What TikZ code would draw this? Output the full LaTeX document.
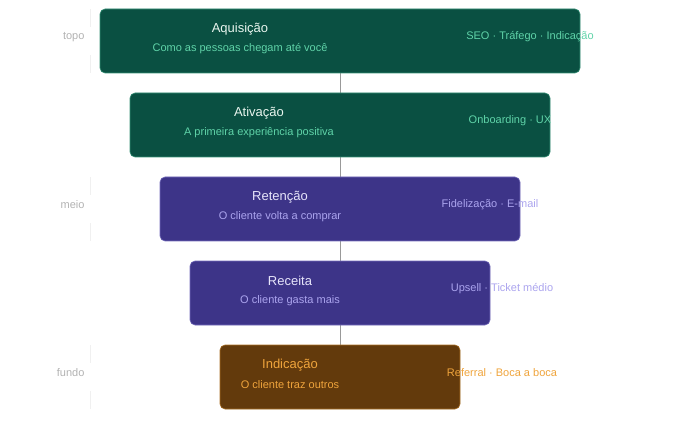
\documentclass[tikz,border=0pt]{standalone}
\usepackage{fontspec}
\setmainfont{Liberation Sans}
\begin{document}
\begin{tikzpicture}[x=1pt,y=-1pt,
 box/.style={draw=#1!70!white,line width=0.6pt,rounded corners=5pt,inner sep=0pt},
 ttl/.style={font=\fontsize{13}{15}\selectfont},
 sub/.style={font=\fontsize{11}{13}\selectfont},
 side/.style={font=\fontsize{11}{13}\selectfont,text=gray!55},
 lvl/.style={font=\fontsize{11}{13}\selectfont,text=black!30}]
\definecolor{gr}{HTML}{0A5042}
\definecolor{pu}{HTML}{3D3488}
\definecolor{br}{HTML}{633A0C}
\definecolor{grt}{HTML}{E8F5EE}\definecolor{grs}{HTML}{5FD3A8}
\definecolor{put}{HTML}{E6E4FA}\definecolor{pus}{HTML}{ABA4EE}
\definecolor{brt}{HTML}{F8D8A8}\definecolor{brs}{HTML}{EFA43C}
\useasboundingbox (0,0) rectangle (680,422);
\draw[gray!80,line width=0.8pt] (340,41) coordinate(t) -- (340,377) coordinate(b);
\foreach \y/\t in {9/topo,177/meio,345/fundo}{
 \draw[black!6] (90,\y) -- (90,\y+18) (90,\y+46) -- (90,\y+64);
 \node[lvl,anchor=east] at (88,\y+28) {\t};}
\def\bx#1#2#3#4#5#6#7#8#9{%
 \fill[#5,rounded corners=5pt] (#1,#2) rectangle (#3,#2+64);
 \draw[#4,rounded corners=5pt,line width=0.6pt] (#1,#2) rectangle (#3,#2+64);
}
\foreach \n/\l/\r/\y/\c/\lc/\tc/\sc/\cx in {
 a/100/580/9/gr/grs/grt/grs/240,
 b/130/550/93/gr/grs/grt/grs/259,
 c/160/520/177/pu/pus/put/pus/280,
 d/190/490/261/pu/pus/put/pus/290,
 e/220/460/345/br/brs/brt/brs/290}{
 \node[fill=\c,draw=\lc!50!\c,line width=0.6pt,rounded corners=5pt,minimum width=\r pt-\l pt,minimum height=64pt,inner sep=0pt] (\n) at ({(\l+\r)/2},\y+32) {};
 \node[text=\tc!85!white] (\n t) at (\cx,\y+20) [ttl]{};
}
\node[ttl,text=grt] at (240,29) {Aquisição};
\node[sub,text=grs] at (240,49) {Como as pessoas chegam até você};
\node[sub,text=grs] at (530,37) {SEO · Tráfego · Indicação};
\node[ttl,text=grt] at (259,113) {Ativação};
\node[sub,text=grs] at (259,133) {A primeira experiência positiva};
\node[sub,text=grs] at (510,121) {Onboarding · UX};
\node[ttl,text=put] at (280,197) {Retenção};
\node[sub,text=pus] at (280,217) {O cliente volta a comprar};
\node[sub,text=pus] at (490,205) {Fidelização · E-mail};
\node[ttl,text=put] at (290,281) {Receita};
\node[sub,text=pus] at (290,301) {O cliente gasta mais};
\node[sub,text=pus] at (502,289) {Upsell · Ticket médio};
\node[ttl,text=brs] at (290,365) {Indicação};
\node[sub,text=brs] at (290,385) {O cliente traz outros};
\node[sub,text=brs] at (502,373) {Referral · Boca a boca};
\end{tikzpicture}
\end{document}
